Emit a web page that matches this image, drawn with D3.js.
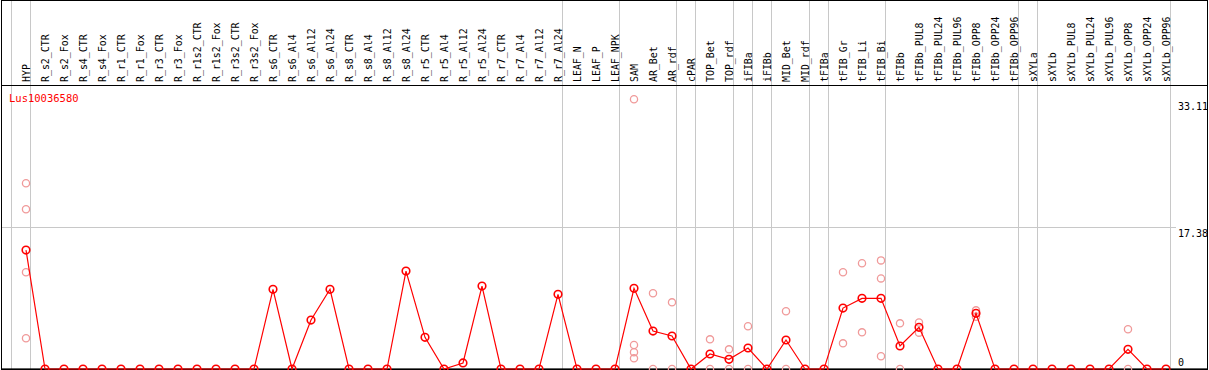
<!DOCTYPE html>
<html><head><meta charset="utf-8">
<script src="https://cdn.jsdelivr.net/npm/d3@7"></script>
<style>body{margin:0;background:#fff}svg{display:block}</style>
</head><body>
<script>
const categories = ["HYP","R_s2_CTR","R_s2_Fox","R_s4_CTR","R_s4_Fox","R_r1_CTR","R_r1_Fox","R_r3_CTR","R_r3_Fox","R_r1s2_CTR","R_r1s2_Fox","R_r3s2_CTR","R_r3s2_Fox","R_s6_CTR","R_s6_Al4","R_s6_Al12","R_s6_Al24","R_s8_CTR","R_s8_Al4","R_s8_Al12","R_s8_Al24","R_r5_CTR","R_r5_Al4","R_r5_Al12","R_r5_Al24","R_r7_CTR","R_r7_Al4","R_r7_Al12","R_r7_Al24","LEAF_N","LEAF_P","LEAF_NPK","SAM","AR_Bet","AR_rdf","cPAR","TOP_Bet","TOP_rdf","iFIBa","iFIBb","MID_Bet","MID_rdf","tFIBa","tFIB_Gr","tFIB_Li","tFIB_Bi","tFIBb","tFIBb_PUL8","tFIBb_PUL24","tFIBb_PUL96","tFIBb_OPP8","tFIBb_OPP24","tFIBb_OPP96","sXYLa","sXYLb","sXYLb_PUL8","sXYLb_PUL24","sXYLb_PUL96","sXYLb_OPP8","sXYLb_OPP24","sXYLb_OPP96"];
const meanValues = [14.60,0,0,0,0,0,0,0,0,0,0,0,0,9.78,0,6.01,9.78,0,0,0,12.02,3.89,0,0.74,10.18,0,0,0,9.17,0,0,0,9.90,4.66,4.05,0,1.84,1.19,2.58,0,3.56,0,0,7.48,8.67,8.67,2.82,5.12,0,0,6.83,0,0,0,0,0,0,0,2.42,0,0];
const repCats = ["HYP","HYP","HYP","HYP","SAM","SAM","SAM","SAM","AR_Bet","AR_Bet","AR_rdf","AR_rdf","TOP_Bet","TOP_Bet","TOP_rdf","TOP_rdf","iFIBa","iFIBa","MID_Bet","MID_Bet","tFIB_Gr","tFIB_Gr","tFIB_Li","tFIB_Li","tFIB_Bi","tFIB_Bi","tFIB_Bi","tFIBb","tFIBb","tFIBb_PUL8","tFIBb_PUL8","tFIBb_OPP8","tFIBb_OPP8","sXYLb_OPP8","sXYLb_OPP8"];
const repVals = [22.79,19.60,11.87,3.77,33.11,2.94,2.05,1.31,9.29,0,8.18,0,3.64,0,2.41,0,5.24,0,7.08,0,11.87,3.15,12.97,4.50,13.33,11.12,1.56,5.60,0,5.70,4.46,7.20,6.40,4.87,0];
const groupStarts = ["HYP","R_s2_CTR","LEAF_N","SAM","cPAR","TOP_Bet","iFIBa","iFIBb","MID_Bet","tFIBa","tFIB_Gr","tFIBb","sXYLa","sXYLb"];
const yTicks = [0, 17.38, 33.11];
const geneName = "Lus10036580";

const W = 1209, H = 370;
const svg = d3.select("body").append("svg").attr("width", W).attr("height", H);
const x = d3.scalePoint().domain(categories).range([26, 26 + 19 * (categories.length - 1)]);
const y = d3.scaleLinear().domain([0, 33.11]).range([369, 99.2]);
const font = "'DejaVu Sans Mono', monospace";

// gray group separators
const sepX = groupStarts.map(c => x(c) - 15).concat([x(categories[categories.length - 1]) + 4]);
svg.selectAll("line.sep").data(sepX).enter().append("line")
  .attr("x1", d => Math.round(d) + 0.5).attr("x2", d => Math.round(d) + 0.5)
  .attr("y1", 0).attr("y2", H).attr("stroke", "#c8c8c8").attr("stroke-width", 1);

// horizontal grid at middle tick
svg.append("line").attr("x1", 1).attr("x2", 1176)
  .attr("y1", Math.round(y(17.38)) + 0.5).attr("y2", Math.round(y(17.38)) + 0.5)
  .attr("stroke", "#c8c8c8");

// frame
svg.append("rect").attr("x", 1.5).attr("y", 0.5).attr("width", 1206).attr("height", 368.5)
  .attr("fill", "none").attr("stroke", "#000").attr("stroke-width", 1);
svg.append("line").attr("x1", 1).attr("x2", 1208).attr("y1", 85.5).attr("y2", 85.5).attr("stroke", "#000");
svg.append("line").attr("x1", 1).attr("x2", 1208).attr("y1", 369.5).attr("y2", 369.5).attr("stroke", "#000").attr("stroke-width", 1.5);

// category labels
svg.selectAll("text.cat").data(categories).enter().append("text")
  .attr("transform", d => `translate(${x(d) + 3.5},82) rotate(-90) scale(0.9,1)`)
  .attr("font-family", font).attr("font-size", 11).attr("fill", "#000").text(d => d);

// y labels
svg.append("text").attr("x", 1208).attr("y", 110).attr("text-anchor", "end")
  .attr("font-family", font).attr("font-size", 10).text(yTicks[2]);
svg.append("text").attr("x", 1208).attr("y", 237).attr("text-anchor", "end")
  .attr("font-family", font).attr("font-size", 10).text(yTicks[1]);
svg.append("text").attr("x", 1178).attr("y", 366)
  .attr("font-family", font).attr("font-size", 10).text(yTicks[0]);

// gene name
svg.append("text").attr("x", 9).attr("y", 102).attr("font-family", font).attr("font-size", 10.5)
  .attr("fill", "#ff0000").text(geneName);

// replicate points
const reps = repCats.map((c, i) => ({c, v: repVals[i]}));
svg.selectAll("circle.rep").data(reps).enter().append("circle")
  .attr("cx", d => x(d.c)).attr("cy", d => y(d.v)).attr("r", 3.6)
  .attr("fill", "none").attr("stroke", "#f09a9a").attr("stroke-width", 1.3);

// mean line
const means = categories.map((c, i) => ({c, v: meanValues[i]}));
svg.append("path").datum(means)
  .attr("d", d3.line().x(d => x(d.c)).y(d => y(d.v)))
  .attr("fill", "none").attr("stroke", "#ff0000").attr("stroke-width", 1.2);
svg.selectAll("circle.mean").data(means).enter().append("circle")
  .attr("cx", d => x(d.c)).attr("cy", d => y(d.v)).attr("r", 3.8)
  .attr("fill", "none").attr("stroke", "#ff0000").attr("stroke-width", 1.6);
</script>
</body></html>
